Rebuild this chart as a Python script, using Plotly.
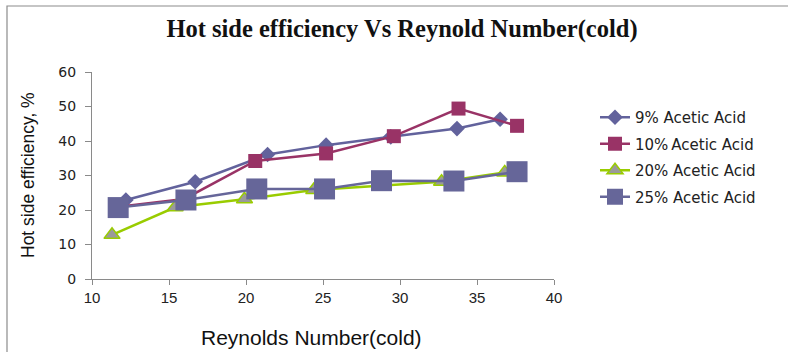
import plotly.graph_objects as go

# Data
re_9 = [12.2, 16.7, 21.4, 25.2, 29.4, 33.7, 36.5]
eff_9 = [22.9, 28.2, 36.1, 38.8, 41.2, 43.6, 46.3]

re_10 = [11.6, 16.0, 20.6, 25.2, 29.6, 33.8, 37.6]
eff_10 = [20.9, 23.2, 34.2, 36.4, 41.4, 49.4, 44.4]

re_20 = [11.3, 15.4, 19.9, 24.4, 32.7, 36.8]
eff_20 = [12.8, 20.8, 23.1, 25.8, 28.2, 30.9]

re_25 = [11.7, 16.1, 20.7, 25.1, 28.8, 33.5, 37.6]
eff_25 = [20.7, 22.9, 26.1, 26.1, 28.5, 28.4, 31.1]

names = ["9% Acetic Acid", "10%\u2009Acetic Acid", "20% Acetic Acid", "25% Acetic Acid"]
x_ticks = [10, 15, 20, 25, 30, 35, 40]
y_ticks = [0, 10, 20, 30, 40, 50, 60]

fig = go.Figure()
fig.add_trace(go.Scatter(x=re_9, y=eff_9, name=names[0], mode="lines+markers",
                         line=dict(color="#62629C", width=2.5),
                         marker=dict(symbol="diamond", size=12, color="#62629C"),
                         legendgroup="a"))
fig.add_trace(go.Scatter(x=re_10, y=eff_10, name=names[1], mode="lines+markers",
                         line=dict(color="#993366", width=2.5),
                         marker=dict(symbol="square", size=14, color="#993366"),
                         legendgroup="b"))
fig.add_trace(go.Scatter(x=re_20, y=eff_20, name=names[2], mode="lines+markers",
                         line=dict(color="#99CC00", width=2.5),
                         marker=dict(symbol="triangle-up", size=14, color="#9A9A9A",
                                     line=dict(color="#99CC00", width=1.5)),
                         legendgroup="c"))
fig.add_trace(go.Scatter(x=re_25, y=eff_25, name=names[3], mode="lines+markers",
                         line=dict(color="#666699", width=2.5),
                         marker=dict(symbol="square", size=21, color="#666699"),
                         legendgroup="d"))

L, R, T, B = 92, 234, 72, 73
W, H = 788, 352
pw, ph = W - L - R, H - T - B

def px_x(p):
    return (p - L) / pw

def px_y(p):
    return (H - B - p) / ph

fig.update_layout(
    width=W, height=H,
    margin=dict(l=L, r=R, t=T, b=B),
    paper_bgcolor="white", plot_bgcolor="white",
    showlegend=True,
    legend=dict(x=px_x(595), y=px_y(101), xanchor="left", yanchor="top",
                font=dict(family="DejaVu Sans", size=15, color="#222222"),
                traceorder="grouped", tracegroupgap=4, bgcolor="rgba(0,0,0,0)"),
    title=dict(text="<b>Hot side efficiency Vs Reynold Number(cold)</b>",
               x=402 / W, xanchor="center", y=1 - 28 / H, yanchor="middle",
               font=dict(family="Liberation Serif", size=24.5, color="#111111")),
    xaxis=dict(range=[10, 40], tickvals=x_ticks,
               showgrid=False, zeroline=False, showline=True, linecolor="#8A8A8A",
               linewidth=1, ticks="outside", ticklen=5, tickcolor="#8A8A8A",
               tickfont=dict(family="Liberation Sans", size=15, color="#222222")),
    yaxis=dict(range=[0, 60], tickvals=y_ticks,
               showgrid=False, zeroline=False, showline=True, linecolor="#8A8A8A",
               linewidth=1, ticks="outside", ticklen=6, tickcolor="#8A8A8A",
               ticklabelstandoff=6,
               tickfont=dict(family="DejaVu Sans", size=14, color="#222222")),
    annotations=[
        dict(text="Reynolds Number(cold)", xref="paper", yref="paper",
             x=px_x(311), y=px_y(337), xanchor="center", yanchor="middle",
             showarrow=False,
             font=dict(family="Liberation Sans", size=21, color="#111111")),
        dict(text="Hot side efficiency, %", xref="paper", yref="paper",
             x=px_x(28), y=px_y(175), xanchor="center", yanchor="middle",
             textangle=-90, showarrow=False,
             font=dict(family="Liberation Sans", size=17.5, color="#111111")),
    ],
    shapes=[dict(type="rect", xref="paper", yref="paper",
                 x0=px_x(7), x1=px_x(800), y0=px_y(360), y1=px_y(6),
                 line=dict(color="#8C8C8C", width=1.2), fillcolor="rgba(0,0,0,0)",
                 layer="below")],
)

fig.write_html("out.html", config={"displayModeBar": False},
               post_script="document.body.style.margin='0';document.body.style.padding='0';")
